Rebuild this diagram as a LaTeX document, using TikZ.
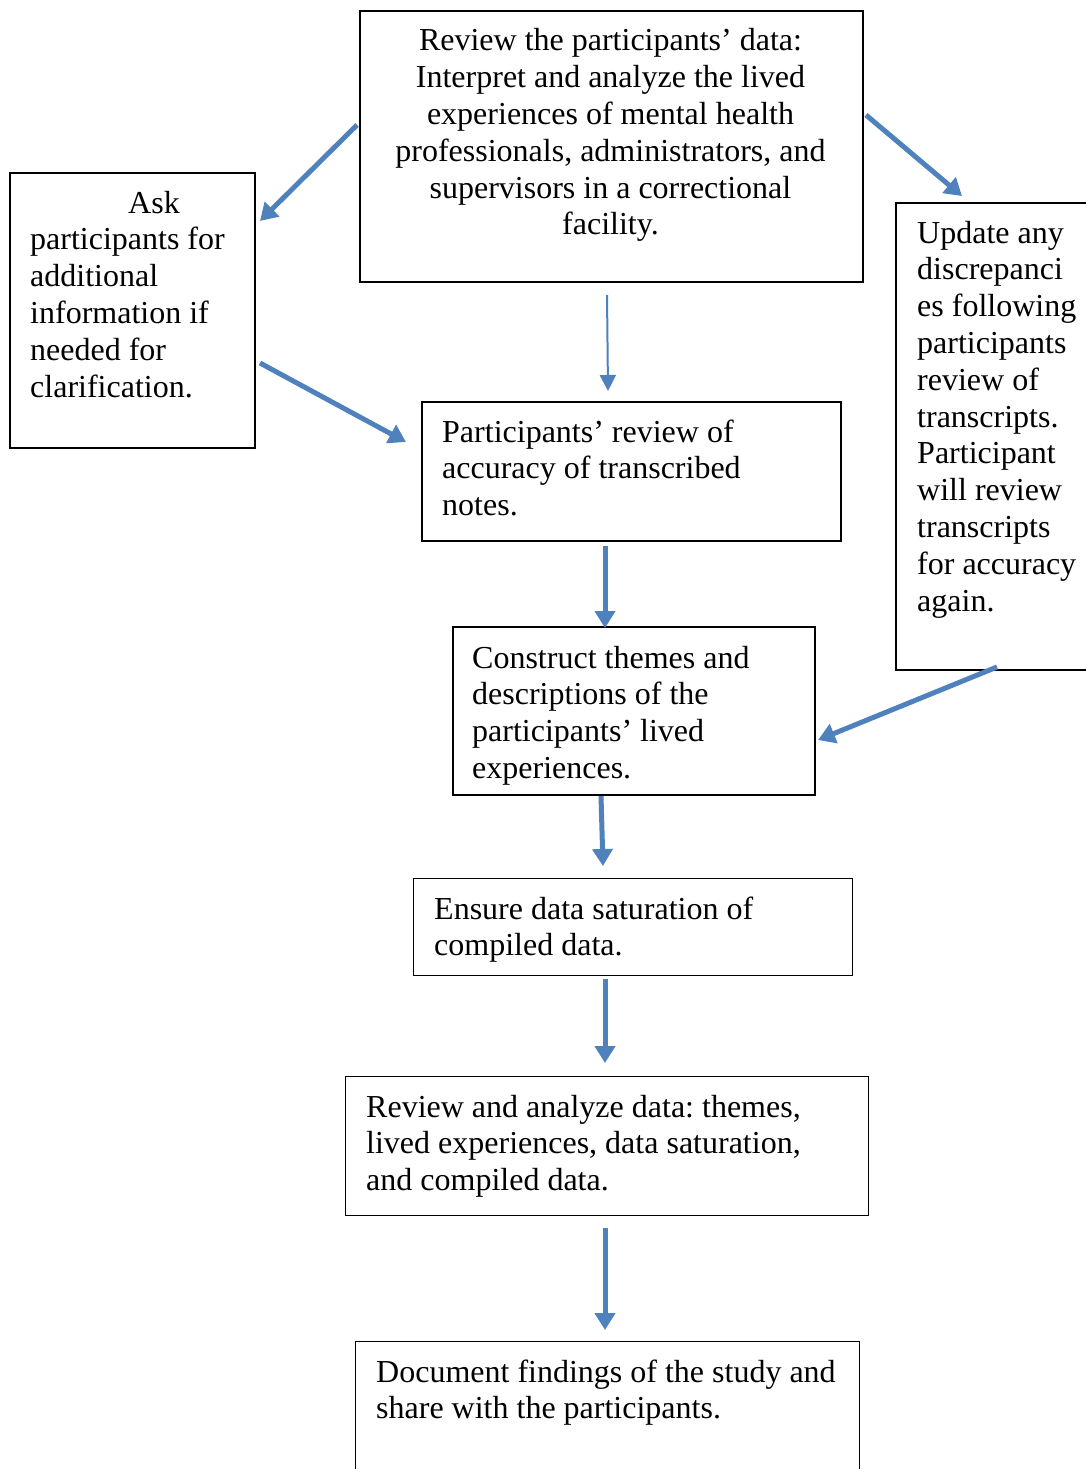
\documentclass[tikz,border=0pt]{standalone}
\usepackage{fontspec}
\setmainfont{Liberation Serif}
\usetikzlibrary{arrows.meta}
\frenchspacing
\definecolor{arrowblue}{RGB}{79,129,189}
\tikzset{
  box/.style={draw=black, line width=1.6pt, inner sep=0pt, anchor=north west, rectangle},
  thinbox/.style={box, line width=1pt},
  txt/.style={inner sep=0pt, anchor=base west, font=\fontsize{32}{36.8}\selectfont\frenchspacing},
  ctxt/.style={txt, anchor=base},
  bigarrow/.style={draw=arrowblue, line width=5pt, -{Triangle[length=17pt,width=20pt]}, shorten >=0pt},
  thinarrow/.style={draw=arrowblue, line width=2pt, -{Triangle[length=16pt,width=16pt]}},
}
\begin{document}
\begin{tikzpicture}[x=1pt,y=-1pt]
\useasboundingbox (0,0) rectangle (1086,1469);
\clip (0,0) rectangle (1086,1469);
% boxes
\node[box, minimum width=503pt, minimum height=271pt] (top) at (359,10) {};
\node[box, minimum width=245pt, minimum height=275pt] (left) at (9,172) {};
\node[box, minimum width=220pt, minimum height=467pt] (right) at (895,202) {};
\node[box, minimum width=419pt, minimum height=139pt] (review) at (421,401) {};
\node[box, minimum width=362pt, minimum height=168pt] (themes) at (452,626) {};
\node[thinbox, minimum width=439pt, minimum height=97pt] (ensure) at (413,878) {};
\node[thinbox, minimum width=523pt, minimum height=139pt] (analyze) at (345,1076) {};
\node[thinbox, minimum width=504pt, minimum height=160pt] (document) at (355,1341) {};
% texts
\node[ctxt] (ttop) at (610.5,51) {\parbox[t]{480pt}{\centering Review the participants’ data:\\Interpret and analyze the lived\\experiences of mental health\\professionals, administrators, and\\supervisors in a correctional\\facility.}};
\node[txt] (tleft) at (30,213) {\parbox[t]{224pt}{\raggedright\hspace*{98pt}Ask\\participants for\\additional\\information if\\needed for\\clarification.}};
\node[txt] (tright) at (917,243) {\parbox[t]{170pt}{\raggedright Update any\\discrepanci\\es following\\participants\\review of\\transcripts.\\Participant\\will review\\transcripts\\for accuracy\\again.}};
\node[txt] (treview) at (442,442) {\parbox[t]{390pt}{\raggedright Participants’ review of\\accuracy of transcribed\\notes.}};
\node[txt] (tthemes) at (472,668) {\parbox[t]{340pt}{\raggedright Construct themes and\\descriptions of the\\participants’ lived\\experiences.}};
\node[txt] (tensure) at (434,919) {\parbox[t]{410pt}{\raggedright Ensure data saturation of\\compiled data.}};
\node[txt] (tanalyze) at (366,1117) {\parbox[t]{495pt}{\raggedright Review and analyze data: themes,\\lived experiences, data saturation,\\and compiled data.}};
\node[txt] (tdocument) at (376,1382) {\parbox[t]{480pt}{\raggedright Document findings of the study and\\share with the participants.}};
% arrow end points
\coordinate (a1s) at (357,125);  \coordinate (a1e) at (260,221);
\coordinate (a2s) at (866,115);  \coordinate (a2e) at (962,196);
\coordinate (a3s) at (607,295);  \coordinate (a3e) at (608,391);
\coordinate (a4s) at (260,363);  \coordinate (a4e) at (406,442);
\coordinate (a5s) at (605,546);  \coordinate (a5e) at (605,628);
\coordinate (a6s) at (997,667);  \coordinate (a6e) at (818,740);
\coordinate (a7s) at (601,796);  \coordinate (a7e) at (603,866);
\coordinate (a8s) at (605,979);  \coordinate (a8e) at (605,1063);
\coordinate (a9s) at (605,1228); \coordinate (a9e) at (605,1330);
% arrows
\draw[bigarrow] (a1s) -- (a1e);
\draw[bigarrow] (a2s) -- (a2e);
\draw[thinarrow] (a3s) -- (a3e);
\draw[bigarrow] (a4s) -- (a4e);
\draw[bigarrow] (a5s) -- (a5e);
\draw[bigarrow] (a6s) -- (a6e);
\draw[bigarrow] (a7s) -- (a7e);
\draw[bigarrow] (a8s) -- (a8e);
\draw[bigarrow] (a9s) -- (a9e);
\end{tikzpicture}
\end{document}
